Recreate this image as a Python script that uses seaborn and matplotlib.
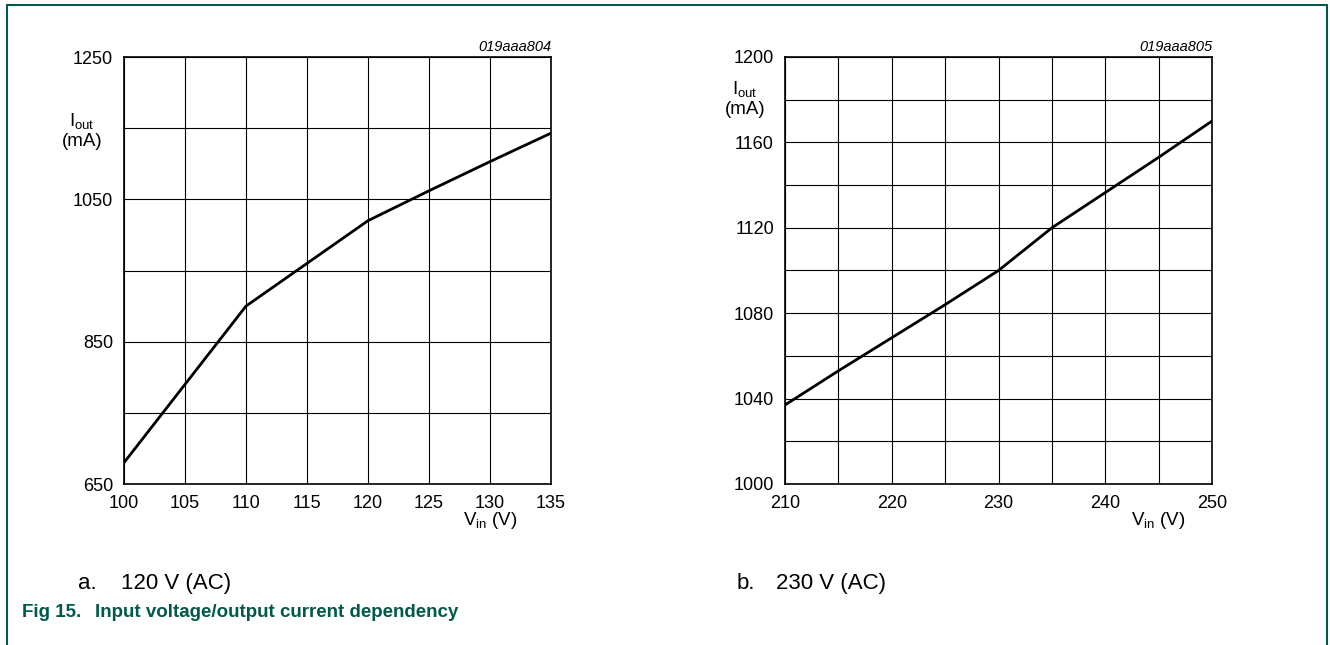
import matplotlib
matplotlib.use("Agg")
import matplotlib.pyplot as plt
import numpy as np
import seaborn as sns
from matplotlib.lines import Line2D

# 120 V (AC) panel
vin_120 = [100, 105, 110, 115, 120, 125, 130, 135]
iout_120 = [680, 790, 900, 960, 1020, 1062, 1103, 1143]

# 230 V (AC) panel
vin_230 = [210, 215, 220, 225, 230, 235, 240, 245, 250]
iout_230 = [1037, 1053, 1068.5, 1084, 1100, 1120, 1136.5, 1153, 1170]

codes = ["019aaa804", "019aaa805"]
captions = [("a.", "120 V (AC)"), ("b.", "230 V (AC)")]
fig_title = ("Fig 15.", "Input voltage/output current dependency")

W, H = 1330, 645
TEAL = "#00594a"

sns.set_theme(style="white")
plt.rcParams["font.family"] = ["Liberation Sans", "DejaVu Sans"]
plt.rcParams["mathtext.fontset"] = "custom"
plt.rcParams["mathtext.rm"] = "Liberation Sans"
plt.rcParams["mathtext.it"] = "Liberation Sans:italic"
plt.rcParams["text.color"] = "black"


def fx(px):
    return px / W


def fy(py):
    return 1 - py / H


fig = plt.figure(figsize=(W / 100, H / 100), dpi=100)


def draw_panel(left_px, x, y, xlim, ylim, xmajor, xminor, ymajor, yminor, code):
    ax = fig.add_axes([fx(left_px), fy(484), 427 / W, 427 / H])
    sns.lineplot(x=x, y=y, ax=ax, color="black", linewidth=2.0)
    ax.set_xlim(*xlim)
    ax.set_ylim(*ylim)
    ax.set_xticks(xmajor)
    ax.set_xticks(xminor, minor=True)
    ax.set_yticks(ymajor)
    ax.set_yticks(yminor, minor=True)
    ax.grid(True, which="both", color="black", linewidth=0.8)
    ax.set_axisbelow(True)
    ax.tick_params(which="both", length=0)
    ax.tick_params(axis="both", labelsize=13, colors="black", pad=8)
    for s in ax.spines.values():
        s.set_color("black")
        s.set_linewidth(1.2)
    ax.text(1.0, 1.006, code, transform=ax.transAxes, ha="right", va="bottom",
            fontsize=10.5, style="italic", color="black")
    return ax


ax1 = draw_panel(124, vin_120, iout_120, (100, 135), (650, 1250),
                 vin_120, [], [650, 850, 1050, 1250], [750, 950, 1150], codes[0])
ax2 = draw_panel(785, vin_230, iout_230, (210, 250), (1000, 1200),
                 [210, 220, 230, 240, 250], [215, 225, 235, 245],
                 [1000, 1040, 1080, 1120, 1160, 1200],
                 [1020, 1060, 1100, 1140, 1180], codes[1])

# axis labels (baseline positions in pixels)
for ax, xlab_x, (ylx, yly) in [(ax1, 130, (82, 126)), (ax2, 245, (745, 94))]:
    ax.text(xlab_x, -0.097, r"V$_{\mathrm{in}}$ (V)", transform=ax.get_xaxis_transform(),
            ha="center", va="baseline", fontsize=13.5)
    fig.text(fx(ylx), fy(yly), r"I$_{\mathrm{out}}$", ha="center", va="baseline", fontsize=13.5)
    fig.text(fx(ylx), fy(yly + 20), "(mA)", ha="center", va="baseline", fontsize=13.5)

# captions
for (lab, txt), (x0, x1) in zip(captions, [(78, 121), (737, 776)]):
    fig.text(fx(x0), fy(589), lab, ha="left", va="baseline", fontsize=16)
    fig.text(fx(x1), fy(589), txt, ha="left", va="baseline", fontsize=16)

fig.text(fx(22), fy(617), fig_title[0], ha="left", va="baseline", fontsize=13.5,
         fontweight="bold", color=TEAL)
fig.text(fx(95), fy(617), fig_title[1], ha="left", va="baseline", fontsize=13.5,
         fontweight="bold", color=TEAL)

# frame around figure (open at the bottom)
frame = [((7, 7), (5, H)), ((7, 1327), (5, 5)), ((1327, 1327), (5, H))]
for xs, ys in frame:
    fig.add_artist(Line2D([fx(v) for v in xs], [fy(v) for v in ys],
                          color=TEAL, linewidth=1.5, transform=fig.transFigure))

fig.savefig("out.png", dpi=100, facecolor="white")
